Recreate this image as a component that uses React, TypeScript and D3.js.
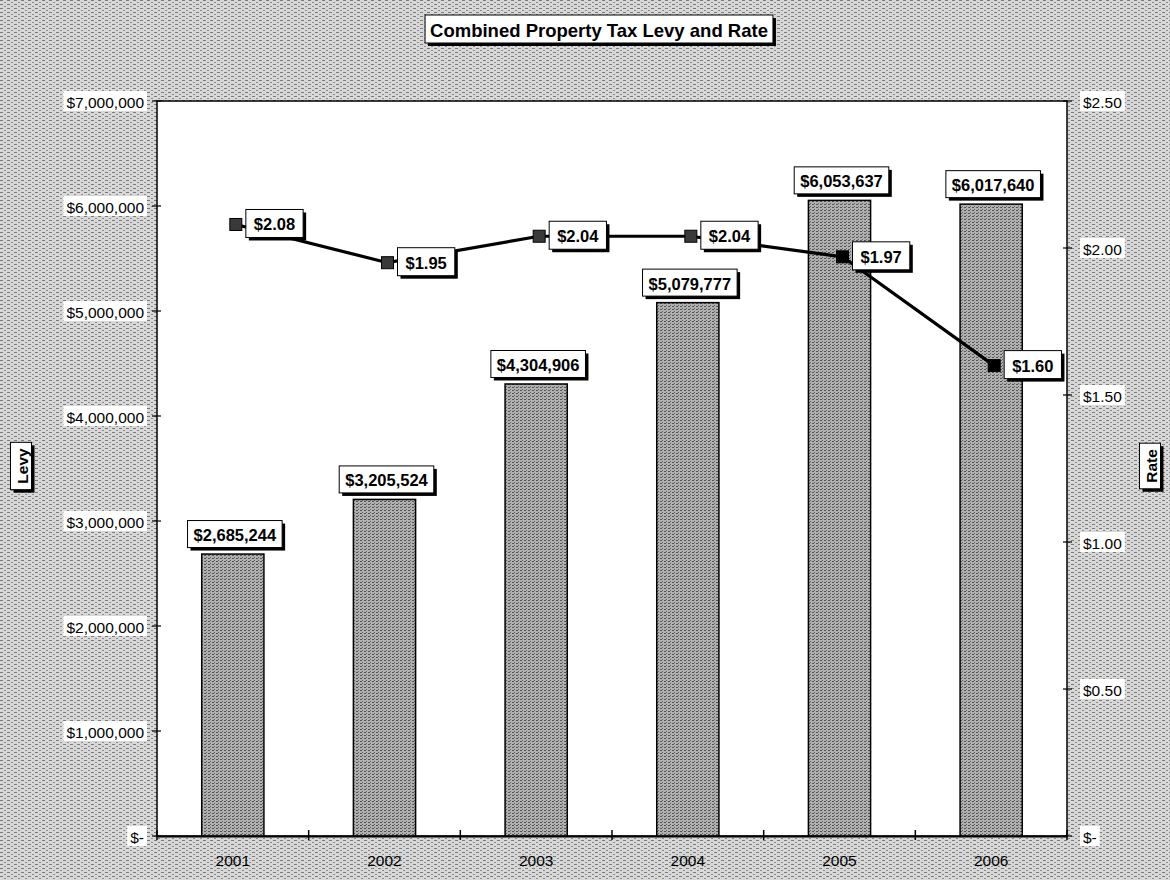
import * as d3 from "d3";
import { useEffect, useRef } from "react";

const years = ["2001", "2002", "2003", "2004", "2005", "2006"];
const levy = [2685244, 3205524, 4304906, 5079777, 6053637, 6017640];
const rate = [2.08, 1.95, 2.04, 2.04, 1.97, 1.6];
const levyTicks = [0, 1000000, 2000000, 3000000, 4000000, 5000000, 6000000, 7000000];
const rateTicks = [0, 0.5, 1, 1.5, 2, 2.5];

const W = 1170;
const H = 880;
const FONT = "'Liberation Sans', Arial, sans-serif";

const App = () => {
  const ref = useRef<SVGSVGElement | null>(null);

  useEffect(() => {
    if (!ref.current) return;
    document.body.style.margin = "0";
    const svg = d3.select(ref.current);
    svg.selectAll("*").remove();

    const margin = { top: 101, right: 103, bottom: 44, left: 157 };

    // stipple textures
    const defs = svg.append("defs");
    const bgPat = defs
      .append("pattern")
      .attr("id", "bgtex")
      .attr("width", 7)
      .attr("height", 4)
      .attr("patternUnits", "userSpaceOnUse");
    bgPat.append("rect").attr("width", 7).attr("height", 4).attr("fill", "#d8d8d8");
    bgPat.append("rect").attr("x", 0).attr("y", 0).attr("width", 3).attr("height", 1).attr("fill", "#7a7a7a");
    bgPat.append("rect").attr("x", 4).attr("y", 2).attr("width", 2).attr("height", 1).attr("fill", "#8a8a8a");

    const barPat = defs
      .append("pattern")
      .attr("id", "bartex")
      .attr("width", 4)
      .attr("height", 3)
      .attr("patternUnits", "userSpaceOnUse");
    barPat.append("rect").attr("width", 4).attr("height", 3).attr("fill", "#b0b0b0");
    barPat.append("rect").attr("x", 0).attr("y", 0).attr("width", 2).attr("height", 1).attr("fill", "#555");
    barPat.append("rect").attr("x", 2).attr("y", 2).attr("width", 1).attr("height", 1).attr("fill", "#666");

    svg.append("rect").attr("width", W).attr("height", H).attr("fill", "url(#bgtex)");

    const x = d3
      .scaleBand()
      .domain(years)
      .range([margin.left, W - margin.right])
      .padding(0);
    const yL = d3
      .scaleLinear()
      .domain([0, 7000000])
      .range([H - margin.bottom, margin.top]);
    const yR = d3
      .scaleLinear()
      .domain([0, 2.5])
      .range([H - margin.bottom, margin.top]);

    const x0 = margin.left;
    const x1 = W - margin.right;
    const yb = H - margin.bottom;

    // plot area
    svg
      .append("rect")
      .attr("x", x0)
      .attr("y", margin.top)
      .attr("width", x1 - x0)
      .attr("height", yb - margin.top)
      .attr("fill", "#fff")
      .attr("stroke", "#000")
      .attr("stroke-width", 1.5);

    // helper for boxed label
    const boxed = (
      g: d3.Selection<SVGGElement, unknown, null, undefined>,
      text: string,
      cx: number,
      cy: number,
      opts: { size: number; bold: boolean; padX: number; h: number; shadow: boolean; border: boolean; anchor?: "middle" | "start" | "end"; rotate?: boolean }
    ) => {
      const grp = g.append("g");
      const t = grp
        .append("text")
        .text(text)
        .attr("font-family", FONT)
        .attr("font-size", opts.size)
        .attr("font-weight", opts.bold ? "bold" : "normal")
        .attr("fill", "#000")
        .attr("text-anchor", "middle")
        .attr("dominant-baseline", "central");
      const tw = (t.node() as SVGTextElement).getComputedTextLength();
      const bw = tw + opts.padX * 2;
      const bh = opts.h;
      let left = cx - bw / 2;
      if (opts.anchor === "start") left = cx;
      if (opts.anchor === "end") left = cx - bw;
      const center = left + bw / 2;
      if (opts.rotate) {
        grp.attr("transform", `translate(${cx},${cy}) rotate(-90)`);
        t.attr("x", 0).attr("y", 1);
        if (opts.shadow)
          grp.insert("rect", "text").attr("x", -bw / 2 - 3).attr("y", -bh / 2 + 3).attr("width", bw).attr("height", bh).attr("fill", "#000");
        grp
          .insert("rect", "text")
          .attr("x", -bw / 2)
          .attr("y", -bh / 2)
          .attr("width", bw)
          .attr("height", bh)
          .attr("fill", "#fff")
          .attr("stroke", opts.border ? "#000" : "none");
        return;
      }
      t.attr("x", center).attr("y", cy + 1);
      if (opts.shadow)
        grp.insert("rect", "text").attr("x", left + 3).attr("y", cy - bh / 2 + 3).attr("width", bw).attr("height", bh).attr("fill", "#000");
      grp
        .insert("rect", "text")
        .attr("x", left)
        .attr("y", cy - bh / 2)
        .attr("width", bw)
        .attr("height", bh)
        .attr("fill", "#fff")
        .attr("stroke", opts.border ? "#000" : "none")
        .attr("stroke-width", 1);
    };

    const labels = svg.append("g");

    // bars
    const barW = x.bandwidth() * 0.41;
    svg
      .append("g")
      .selectAll("rect")
      .data(levy)
      .join("rect")
      .attr("x", (_, i) => x(years[i])! + x.bandwidth() / 2 - barW / 2)
      .attr("y", (d) => yL(d))
      .attr("width", barW)
      .attr("height", (d) => yb - yL(d))
      .attr("fill", "url(#bartex)")
      .attr("stroke", "#000")
      .attr("stroke-width", 1.5);

    // bottom axis
    svg
      .append("g")
      .attr("transform", `translate(0,${yb})`)
      .call(d3.axisBottom(x).tickSize(0).tickFormat(() => ""))
      .call((g) => {
        g.select(".domain").attr("stroke", "#000").attr("stroke-width", 2);
      });
    const bounds = years.map((yr) => x(yr)!).concat([x1]);
    svg
      .append("g")
      .selectAll("line")
      .data(bounds)
      .join("line")
      .attr("x1", (d) => d)
      .attr("x2", (d) => d)
      .attr("y1", yb - 6)
      .attr("y2", yb + 4)
      .attr("stroke", "#000")
      .attr("stroke-width", 1.5);
    svg
      .append("g")
      .selectAll("text")
      .data(years)
      .join("text")
      .attr("x", (d) => x(d)! + x.bandwidth() / 2)
      .attr("y", yb + 30)
      .attr("text-anchor", "middle")
      .attr("font-family", FONT)
      .attr("font-size", 15.5)
      .attr("fill", "#000")
      .text((d) => d);

    // y axes ticks
    const fmtL = (v: number) => (v === 0 ? "$-" : "$" + d3.format(",")(v));
    const fmtR = (v: number) => (v === 0 ? "$-" : "$" + d3.format(".2f")(v));
    svg
      .append("g")
      .selectAll("line")
      .data(levyTicks)
      .join("line")
      .attr("x1", x0 - 5)
      .attr("x2", x0 + 4)
      .attr("y1", (d) => yL(d))
      .attr("y2", (d) => yL(d))
      .attr("stroke", "#000")
      .attr("stroke-width", 1.2);
    svg
      .append("g")
      .selectAll("line")
      .data(rateTicks)
      .join("line")
      .attr("x1", x1 - 4)
      .attr("x2", x1 + 5)
      .attr("y1", (d) => yR(d))
      .attr("y2", (d) => yR(d))
      .attr("stroke", "#000")
      .attr("stroke-width", 1.2);
    levyTicks.forEach((v) =>
      boxed(labels, fmtL(v), 147, yL(v), { size: 15.5, bold: false, padX: 3, h: 20, shadow: false, border: false, anchor: "end" })
    );
    rateTicks.forEach((v) =>
      boxed(labels, fmtR(v), 1080, yR(v), { size: 15.5, bold: false, padX: 3, h: 20, shadow: false, border: false, anchor: "start" })
    );

    // rate line
    const line = d3
      .line<number>()
      .x((_, i) => x(years[i])! + x.bandwidth() / 2 + 3)
      .y((d) => yR(d));
    svg
      .append("path")
      .datum(rate)
      .attr("d", line)
      .attr("fill", "none")
      .attr("stroke", "#000")
      .attr("stroke-width", 3.2);
    svg
      .append("g")
      .selectAll("rect")
      .data(rate)
      .join("rect")
      .attr("x", (_, i) => x(years[i])! + x.bandwidth() / 2 + 3 - 6)
      .attr("y", (d) => yR(d) - 6)
      .attr("width", 12)
      .attr("height", 12)
      .attr("fill", (_, i) => (i < 4 ? "#3a3a3a" : "#000"))
      .attr("stroke", "#000");

    // data labels
    levy.forEach((v, i) =>
      boxed(labels, fmtL(v), x(years[i])! + x.bandwidth() / 2 + 2, yL(v) - 20, {
        size: 16.5,
        bold: true,
        padX: 6,
        h: 27,
        shadow: true,
        border: true,
      })
    );
    rate.forEach((v, i) =>
      boxed(labels, fmtR(v), x(years[i])! + x.bandwidth() / 2 + 13, yR(v) - 1, {
        size: 16.5,
        bold: true,
        padX: 8,
        h: 28,
        shadow: true,
        border: true,
        anchor: "start",
      })
    );
    labels.raise();

    // title and axis titles
    boxed(labels, "Combined Property Tax Levy and Rate", 599, 29, { size: 18.5, bold: true, padX: 5, h: 28, shadow: true, border: true });
    boxed(labels, "Levy", 21, 466, { size: 15.5, bold: true, padX: 6, h: 21, shadow: true, border: true, rotate: true });
    boxed(labels, "Rate", 1150, 466, { size: 15.5, bold: true, padX: 6, h: 21, shadow: true, border: true, rotate: true });
  }, []);

  return <svg ref={ref} width={W} height={H} style={{ display: "block" }} />;
};

export default App;
